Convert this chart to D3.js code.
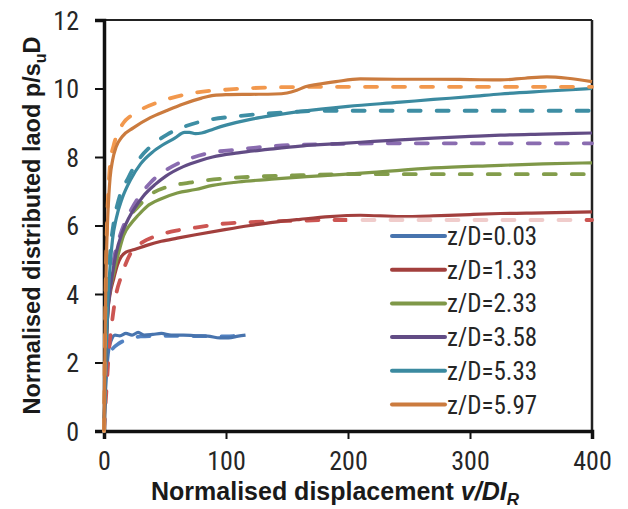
<!DOCTYPE html>
<html>
<head>
<meta charset="utf-8">
<script src="https://cdn.jsdelivr.net/npm/d3@7"></script>
<style>
  html, body { margin: 0; padding: 0; background: #fff; }
  svg { display: block; }
  .tick-label { font-family: "Liberation Sans Narrow", "Arial Narrow", "Roboto Condensed", sans-serif; fill: #262626; }
  .title { font-family: "Liberation Sans Narrow", "Arial Narrow", sans-serif; font-weight: bold; fill: #1a1a1a; }
</style>
</head>
<body>
<svg id="chart" width="628" height="509"></svg>
<script>
// Normalised displacement v/DI_R vs normalised distributed load p/(s_u D)
const seriesNames = ["z/D=0.03", "z/D=1.33", "z/D=2.33", "z/D=3.58", "z/D=5.33", "z/D=5.97"];
const solidColors = ["#4874ae", "#a23f3d", "#7f9848", "#624c85", "#3b8aa0", "#cb7b3e"];
const dashColors  = ["#5282c2", "#cc5552", "#839d4b", "#8a6cb0", "#3e8ea4", "#f2984d"];

const xTicks = [0, 100, 200, 300, 400];
const yTicks = [0, 2, 4, 6, 8, 10, 12];

// Solid curves: [v/DI_R, p/s_uD]
const solid003 = [[0,0],[1,1.0],[2,1.6],[3,2.1],[4,2.4],[6,2.65],[9,2.8],[13,2.78],[18,2.85],[23,2.8],[28,2.88],[33,2.8],[40,2.82],[47,2.85],[55,2.8],[65,2.8],[75,2.78],[85,2.77],[95,2.72],[102,2.72],[110,2.77],[116,2.8]];
const solid133 = [[0,0],[1,1.4],[2,2.6],[3,3.4],[5,4.0],[8,4.45],[11,4.85],[14,5.08],[18,5.22],[25,5.3],[35,5.42],[47,5.54],[60,5.63],[75,5.73],[99,5.88],[120,6.0],[140,6.1],[161,6.18],[185,6.26],[210,6.3],[243,6.26],[270,6.28],[300,6.32],[325,6.35],[360,6.37],[400,6.4]];
const solid233 = [[0,0],[1,1.5],[2,2.7],[3,3.5],[5,4.1],[8,4.6],[12,5.2],[16,5.7],[22,6.05],[28,6.3],[35,6.55],[47,6.78],[60,6.95],[75,7.05],[89,7.17],[110,7.27],[140,7.36],[177,7.45],[220,7.55],[270,7.68],[320,7.75],[360,7.8],[400,7.83]];
const solid358 = [[0,0],[1,1.3],[2,2.6],[3,3.4],[5,4.1],[7,4.6],[10,5.2],[15,5.8],[20,6.2],[25,6.5],[32,6.85],[42,7.2],[51,7.45],[65,7.72],[79,7.9],[89,8.0],[110,8.12],[134,8.22],[161,8.32],[177,8.36],[210,8.43],[243,8.5],[270,8.55],[300,8.6],[325,8.64],[360,8.67],[400,8.7]];
const solid533 = [[0,0],[1,1.5],[2,2.8],[3,3.7],[5,4.8],[7,5.6],[10,6.2],[15,6.8],[22,7.35],[30,7.8],[40,8.15],[48,8.35],[58,8.55],[66,8.72],[70,8.72],[75,8.68],[80,8.7],[90,8.82],[100,8.93],[120,9.1],[140,9.22],[161,9.33],[200,9.48],[243,9.6],[270,9.68],[300,9.76],[325,9.84],[360,9.92],[400,10.0]];
const solid597 = [[0,0],[0.5,1.5],[1,3],[1.5,4.2],[2,5.1],[3,6.2],[4,6.9],[5,7.4],[7,7.9],[10,8.3],[15,8.6],[24,8.85],[38,9.15],[51,9.35],[65,9.55],[80,9.72],[90,9.8],[100,9.82],[120,9.83],[140,9.84],[150,9.87],[158,9.95],[165,10.05],[175,10.12],[190,10.2],[210,10.28],[240,10.27],[270,10.27],[300,10.26],[325,10.25],[345,10.3],[363,10.34],[380,10.3],[400,10.2]];

// Dashed curves
const dash003 = [[0,0],[1,1.2],[2,1.9],[4,2.25],[7,2.4],[12,2.55],[20,2.68],[30,2.76],[50,2.78],[80,2.77],[100,2.76],[112,2.8]];
const dash133 = [[0,0],[2,1.2],[4,2.3],[7,3.3],[10,4.0],[14,4.5],[18,4.9],[22,5.2],[28,5.42],[35,5.58],[45,5.72],[55,5.82],[75,5.94],[97,6.05],[120,6.1],[160,6.14],[188,6.16],[400,6.16]];
const dash233 = [[0,0],[1,1.6],[2,2.8],[4,4.0],[8,4.9],[14,5.7],[20,6.2],[28,6.55],[38,6.9],[51,7.12],[70,7.25],[95,7.36],[120,7.42],[161,7.47],[200,7.5],[400,7.5]];
const dash358 = [[0,0],[1,1.5],[2,2.8],[4,4.0],[8,5.0],[14,5.8],[20,6.3],[28,6.8],[38,7.25],[50,7.6],[60,7.8],[84,8.1],[110,8.22],[161,8.36],[250,8.4],[400,8.4]];
const dash533 = [[0,0],[1,1.7],[2,3.1],[3,4.1],[5,5.2],[8,6.1],[12,6.75],[20,7.4],[28,7.9],[38,8.3],[52,8.66],[64,8.86],[85,9.08],[106,9.18],[130,9.26],[152,9.31],[180,9.35],[400,9.35]];
const dash597 = [[0,0],[0.5,1.8],[1,3.3],[2,5.4],[3,6.6],[4,7.3],[5,7.8],[8,8.35],[12,8.75],[16,9.0],[22,9.2],[30,9.38],[46,9.62],[70,9.85],[106,9.98],[150,10.04],[200,10.05],[400,10.05]];

const solidSeries = [solid003, solid133, solid233, solid358, solid533, solid597];
const dashSeries  = [dash003, dash133, dash233, dash358, dash533, dash597];

const svg = d3.select("#chart");
const margin = { left: 104, top: 20, right: 36, bottom: 78 };
const W = 628, H = 509;

const x = d3.scaleLinear().domain([0, 400]).range([margin.left, W - margin.right]);
const y = d3.scaleLinear().domain([0, 12]).range([H - margin.bottom, margin.top]);

// Frame: thin top and right edges
svg.append("line").attr("x1", x(0)).attr("x2", x(400)).attr("y1", y(12)).attr("y2", y(12))
  .attr("stroke", "#222").attr("stroke-width", 2);
svg.append("line").attr("x1", x(400)).attr("x2", x(400)).attr("y1", y(12)).attr("y2", y(0))
  .attr("stroke", "#222").attr("stroke-width", 2.5);

// Axes
const yAxis = d3.axisLeft(y).tickValues(yTicks).tickSize(9).tickPadding(16).tickFormat(d3.format("d"));
const xAxis = d3.axisBottom(x).tickValues(xTicks).tickSize(8).tickPadding(12).tickFormat(d3.format("d"));

const gy = svg.append("g").attr("transform", `translate(${x(0)},0)`).call(yAxis);
const gx = svg.append("g").attr("transform", `translate(0,${y(0)})`).call(xAxis);

[gx, gy].forEach(g => {
  g.select(".domain").attr("stroke", "#111").attr("stroke-width", 3.5);
  g.selectAll(".tick line").attr("stroke", "#111").attr("stroke-width", 2);
  g.selectAll(".tick text").attr("class", "tick-label").attr("font-size", 26).attr("fill", "#262626");
});
gy.selectAll(".tick text").attr("dy", "0.36em");
gx.selectAll(".tick text").attr("dy", "0.72em");

// Curves
const line = d3.line().x(d => x(d[0])).y(d => y(d[1])).curve(d3.curveMonotoneX);

const plot = svg.append("g");
seriesNames.forEach((name, i) => {
  plot.append("path").datum(dashSeries[i])
    .attr("d", line).attr("fill", "none")
    .attr("stroke", dashColors[i]).attr("stroke-width", 3.8)
    .attr("stroke-dasharray", "12,16").attr("stroke-linecap", "round");
  plot.append("path").datum(solidSeries[i])
    .attr("d", line).attr("fill", "none")
    .attr("stroke", solidColors[i]).attr("stroke-width", 3.2)
    .attr("stroke-linejoin", "round");
});

// Legend
const legend = svg.append("g");
legend.append("rect")
  .attr("x", 347).attr("y", 217.5).attr("width", 236).attr("height", 202)
  .attr("fill", "#fff").attr("fill-opacity", 0.7);
const legendY0 = 236, legendStep = 33.7;
seriesNames.forEach((name, i) => {
  const ly = legendY0 + i * legendStep;
  legend.append("line").attr("x1", 392).attr("x2", 445).attr("y1", ly).attr("y2", ly)
    .attr("stroke", solidColors[i]).attr("stroke-width", 4).attr("stroke-linecap", "round");
  legend.append("text").attr("class", "tick-label")
    .attr("x", 447).attr("y", ly).attr("dy", "0.36em")
    .attr("font-size", 25).text(name);
});

// Axis titles
const yTitle = svg.append("text").attr("class", "title")
  .attr("transform", `translate(40,${(413 + 38) / 2}) rotate(-90)`)
  .attr("text-anchor", "middle").attr("font-size", 23.5);
yTitle.append("tspan").text("Normalised distributed laod p/s");
yTitle.append("tspan").attr("font-size", 16).attr("dy", 6).text("u");
yTitle.append("tspan").attr("dy", -6).text("D");

const xTitle = svg.append("text").attr("class", "title")
  .attr("x", 335).attr("y", 500).attr("text-anchor", "middle").attr("font-size", 25);
xTitle.append("tspan").text("Normalised displacement ");
xTitle.append("tspan").attr("font-style", "italic").text("v/DI");
xTitle.append("tspan").attr("font-style", "italic").attr("font-size", 17).attr("dy", 5).text("R");
</script>
</body>
</html>
